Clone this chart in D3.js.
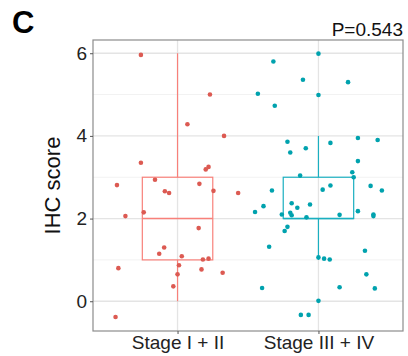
<!DOCTYPE html>
<html><head><meta charset="utf-8">
<script src="https://cdn.jsdelivr.net/npm/d3@7"></script>
<style>body{margin:0;background:#fff;}svg{display:block;font-family:"Liberation Sans",Arial,sans-serif;}</style>
</head><body>
<svg id="c" width="408" height="356"></svg>
<script>
const categories = ["Stage I + II", "Stage III + IV"];
const yTicks = [0, 2, 4, 6];
const yMinor = [1, 3, 5];
// box stats: [lowerWhisker, Q1, median, Q3, upperWhisker]
const boxStage12 = [0, 1, 2, 3, 6];
const boxStage34 = [1, 2, 2, 3, 4];
// displayed (jittered) points: values and horizontal jitter offsets
const valuesStage12 = [5.96, 5.0, 4.28, 4.0, 3.35, 3.25, 3.19, 2.81, 2.94, 2.84, 2.66, 2.62, 2.67, 2.62, 2.06, 2.15, 1.77, 1.30, 1.15, 1.09, 1.01, 1.03, 0.80, 0.87, 0.65, 0.77, 0.69, 0.36, -0.38];
const jitterStage12 = [-0.26, 0.23, 0.07, 0.33, -0.26, 0.22, 0.20, -0.43, -0.16, 0.155, -0.09, -0.06, 0.255, 0.43, -0.37, -0.24, 0.15, -0.095, -0.13, 0.03, 0.18, 0.22, -0.42, 0.01, 0.0, 0.17, 0.32, -0.03, -0.44];
const valuesStage34 = [5.99, 5.80, 5.36, 5.30, 5.02, 4.99, 4.73, 3.86, 3.83, 3.95, 3.90, 3.60, 3.70, 3.39, 3.04, 3.12, 3.0, 2.68, 2.70, 2.80, 2.79, 2.68, 2.30, 2.16, 2.37, 2.26, 2.34, 2.10, 2.14, 2.08, 2.03, 2.09, 2.18, 2.10, 2.06, 1.80, 1.70, 1.32, 1.22, 1.06, 1.03, 1.01, 0.65, 0.32, 0.34, 0.31, 0.01, -0.33, -0.33];
const jitterStage34 = [0.0, -0.32, -0.11, 0.21, -0.43, 0.0, -0.31, -0.22, 0.085, 0.28, 0.42, -0.2, -0.09, 0.28, -0.13, 0.24, 0.25, -0.33, 0.03, 0.085, 0.37, 0.45, -0.39, -0.45, -0.19, -0.15, -0.06, -0.26, -0.2, -0.19, -0.085, 0.15, 0.28, 0.39, 0.39, -0.22, -0.24, -0.35, 0.33, 0.0, 0.04, 0.08, 0.34, -0.4, 0.15, 0.4, 0.0, -0.125, -0.07];
const pText = "P=0.543";
const panelLabel = "C";
const yTitle = "IHC score";

const boxLine = ["#F8807A", "#1AAFC0"];
const pointCol = ["#DC5A52", "#00A2AE"];

const svg = d3.select("#c");
const L = 93, R = 403, T = 40, B = 331;
const x = d3.scaleLinear().domain([0.4, 2.6]).range([L, R]);
const y = d3.scaleLinear().domain([-0.72, 6.32]).range([B, T]);

// panel grid
const g = svg.append("g");
g.selectAll(".minor").data(yMinor).enter().append("line")
  .attr("x1", L).attr("x2", R).attr("y1", d => y(d)).attr("y2", d => y(d))
  .attr("stroke", "#F2F2F2").attr("stroke-width", 1);
g.selectAll(".major").data(yTicks).enter().append("line")
  .attr("x1", L).attr("x2", R).attr("y1", d => y(d)).attr("y2", d => y(d))
  .attr("stroke", "#E4E4E4").attr("stroke-width", 1.3);
g.selectAll(".vmaj").data(categories).enter().append("line")
  .attr("x1", (d, i) => x(i + 1)).attr("x2", (d, i) => x(i + 1)).attr("y1", T).attr("y2", B)
  .attr("stroke", "#E4E4E4").attr("stroke-width", 1.3);

// boxes
const boxes = [boxStage12, boxStage34];
const bw = 0.5;
boxes.forEach((b, i) => {
  const cx = x(i + 1), x0 = x(i + 1 - bw / 2), x1 = x(i + 1 + bw / 2);
  const bg = svg.append("g").attr("stroke", boxLine[i]).attr("stroke-width", 1.2).attr("fill", "none");
  bg.append("line").attr("x1", cx).attr("x2", cx).attr("y1", y(b[0])).attr("y2", y(b[1]));
  bg.append("line").attr("x1", cx).attr("x2", cx).attr("y1", y(b[3])).attr("y2", y(b[4]));
  bg.append("rect").attr("x", x0).attr("y", y(b[3])).attr("width", x1 - x0).attr("height", y(b[1]) - y(b[3]));
  bg.append("line").attr("x1", x0).attr("x2", x1).attr("y1", y(b[2])).attr("y2", y(b[2])).attr("stroke-width", 1.6);
});

// points
const pts = [[valuesStage12, jitterStage12], [valuesStage34, jitterStage34]];
pts.forEach(([vals, jit], i) => {
  svg.append("g").selectAll("circle").data(vals).enter().append("circle")
    .attr("cx", (d, k) => x(i + 1 + jit[k])).attr("cy", d => y(d)).attr("r", 2.3)
    .attr("fill", pointCol[i]);
});

// panel border
svg.append("rect").attr("x", L).attr("y", T).attr("width", R - L).attr("height", B - T)
  .attr("fill", "none").attr("stroke", "#8C8C8C").attr("stroke-width", 1.2);

// y axis
const ya = svg.append("g").attr("transform", `translate(${L},0)`)
  .call(d3.axisLeft(y).tickValues(yTicks).tickSize(3).tickPadding(3).tickFormat(d3.format("d")));
ya.select(".domain").remove();
ya.selectAll("line").attr("stroke", "#555");
ya.selectAll("text").attr("font-size", 19).attr("fill", "#222");

// x axis
const xa = svg.append("g").attr("transform", `translate(0,${B})`)
  .call(d3.axisBottom(x).tickValues([1, 2]).tickSize(3).tickPadding(2).tickFormat((d) => categories[d - 1]));
xa.select(".domain").remove();
xa.selectAll("line").attr("stroke", "#555");
xa.selectAll("text").attr("font-size", 19).attr("fill", "#222");

// titles
svg.append("text").attr("transform", `translate(60,${(T + B) / 2}) rotate(-90)`)
  .attr("text-anchor", "middle").attr("font-size", 22).attr("fill", "#111").text(yTitle);
svg.append("text").attr("x", R).attr("y", 36).attr("text-anchor", "end")
  .attr("font-size", 19).attr("fill", "#111").text(pText);
svg.append("text").attr("x", 12).attr("y", 33).attr("font-size", 31).attr("font-weight", "bold")
  .attr("fill", "#000").text(panelLabel);
</script>
</body></html>
